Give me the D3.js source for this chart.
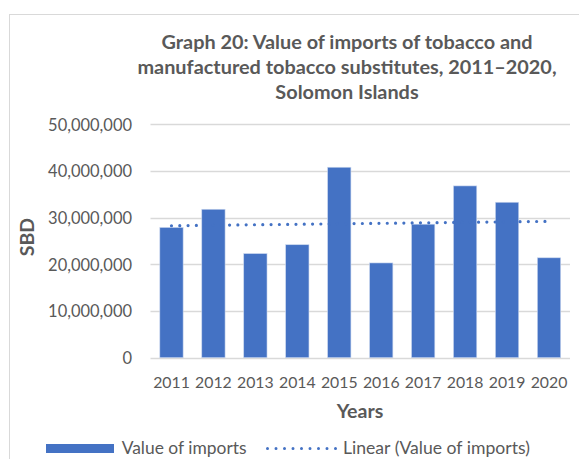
<!DOCTYPE html>
<html>
<head>
<meta charset="utf-8">
<script src="https://cdn.jsdelivr.net/npm/d3@7"></script>
<style>
  html, body { margin: 0; padding: 0; background: #fff; }
  svg { display: block; }
  text { font-family: Lato, "Open Sans", sans-serif; }
</style>
</head>
<body>
<svg id="chart" width="579" height="459"></svg>
<script>
const years = ["2011","2012","2013","2014","2015","2016","2017","2018","2019","2020"];
const imports = [27900000, 31800000, 22300000, 24200000, 40800000, 20300000, 28600000, 36800000, 33300000, 21400000];
const yTicks = [0, 10000000, 20000000, 30000000, 40000000, 50000000];
const titleLines = ["Graph 20: Value of imports of tobacco and", "manufactured tobacco substitutes, 2011\u20132020,", "Solomon Islands"];
const xTitle = "Years";
const yTitle = "SBD";
const seriesName = "Value of imports";
const trendName = "Linear (Value of imports)";

const svg = d3.select("#chart");
const W = 579, H = 459;
const blue = "#4472C4", grey = "#595959";

// scale a text's font size so its rendered width matches a target width
function fitSize(sel, target) {
  const base = 20;
  sel.attr("font-size", base);
  const w = sel.node().getComputedTextLength();
  const s = base * target / w;
  sel.attr("font-size", s);
  return s;
}

// frame
svg.append("rect").attr("x", 9.5).attr("y", 14.5).attr("width", W).attr("height", H)
  .attr("fill", "none").attr("stroke", "#d9d9d9").attr("stroke-width", 1);

const plot = { left: 150.5, right: 570, top: 124.3, bottom: 357.7 };
const x = d3.scaleBand().domain(years).range([plot.left, plot.right]).paddingInner(0.445).paddingOuter(0.2225);
const y = d3.scaleLinear().domain([0, 50000000]).range([plot.bottom, plot.top]);

// title
const tg = svg.append("g").attr("fill", grey).attr("font-weight", "bold").attr("text-anchor", "middle");
const t1 = tg.append("text").attr("x", 347).attr("y", 49).text(titleLines[0]);
const ts = fitSize(t1, 371);
tg.selectAll("text.more").data(titleLines.slice(1)).join("text").attr("class", "more")
  .attr("x", 347).attr("y", (d, i) => 74 + i * 25).attr("font-size", ts).text(d => d);

// gridlines
svg.append("g").selectAll("line").data(yTicks).join("line")
  .attr("x1", plot.left).attr("x2", plot.right)
  .attr("y1", d => Math.round(y(d)) + 0.5).attr("y2", d => Math.round(y(d)) + 0.5)
  .attr("stroke", "#d9d9d9").attr("stroke-width", 1.3);

// y axis labels
const yAxis = d3.axisLeft(y).tickValues(yTicks).tickSize(0).tickPadding(0)
  .tickFormat(d3.format(","));
const gy = svg.append("g").attr("transform", `translate(132,0)`).call(yAxis);
gy.select(".domain").remove();
gy.selectAll("text").attr("fill", grey)
  .attr("font-family", "Lato, 'Open Sans', sans-serif").attr("dy", "0.36em");
const topLab = gy.selectAll("text").filter(d => d === 50000000);
const ySize = fitSize(topLab, 84);
gy.selectAll("text").attr("font-size", ySize);

// bars
svg.append("g").selectAll("rect").data(imports).join("rect")
  .attr("x", (d, i) => x(years[i])).attr("width", x.bandwidth())
  .attr("y", d => y(d)).attr("height", d => plot.bottom - y(d))
  .attr("fill", blue).attr("stroke", "#c9d6ee").attr("stroke-width", 0.6);

// linear trend (least squares on the plotted values)
const n = imports.length;
const xs = d3.range(1, n + 1);
const mx = d3.mean(xs), my = d3.mean(imports);
const slope = d3.sum(xs, (v, i) => (v - mx) * (imports[i] - my)) / d3.sum(xs, v => (v - mx) * (v - mx));
const icpt = my - slope * mx;
const trend = xs.map(v => icpt + slope * v);
const line = d3.line().x((d, i) => x(years[i]) + x.bandwidth() / 2).y(d => y(d));
svg.append("path").datum(trend).attr("d", line)
  .attr("fill", "none").attr("stroke", blue).attr("stroke-width", 3.2)
  .attr("stroke-linecap", "round").attr("stroke-dasharray", "0,8.3");

// x axis labels
const xAxis = d3.axisBottom(x).tickSize(0).tickPadding(0);
const gx = svg.append("g").attr("transform", `translate(0,${plot.bottom})`).call(xAxis);
gx.select(".domain").remove();
gx.selectAll("text").attr("fill", grey)
  .attr("font-family", "Lato, 'Open Sans', sans-serif").attr("dy", "0").attr("y", 30.5);
const xSize = fitSize(gx.select("text"), 36.7);
gx.selectAll("text").attr("font-size", xSize);

// axis titles
const xt = svg.append("text").attr("x", 360).attr("y", 418).attr("text-anchor", "middle")
  .attr("font-weight", "bold").attr("fill", grey).text(xTitle);
const axTitleSize = fitSize(xt, 46.7);
svg.append("text").attr("transform", "translate(34,237) rotate(-90)").attr("text-anchor", "middle")
  .attr("font-weight", "bold").attr("fill", grey).attr("font-size", axTitleSize).text(yTitle);

// legend
svg.append("rect").attr("x", 46).attr("y", 444).attr("width", 68).attr("height", 9).attr("fill", blue);
const l1 = svg.append("text").attr("x", 121.7).attr("y", 453.5).attr("fill", grey).text(seriesName);
fitSize(l1, 125);
svg.append("line").attr("x1", 267.5).attr("x2", 336).attr("y1", 448.5).attr("y2", 448.5)
  .attr("stroke", blue).attr("stroke-width", 3).attr("stroke-linecap", "round").attr("stroke-dasharray", "0,8.5");
const l2 = svg.append("text").attr("x", 343).attr("y", 453.5).attr("fill", grey).text(trendName);
fitSize(l2, 187);
</script>
</body>
</html>
